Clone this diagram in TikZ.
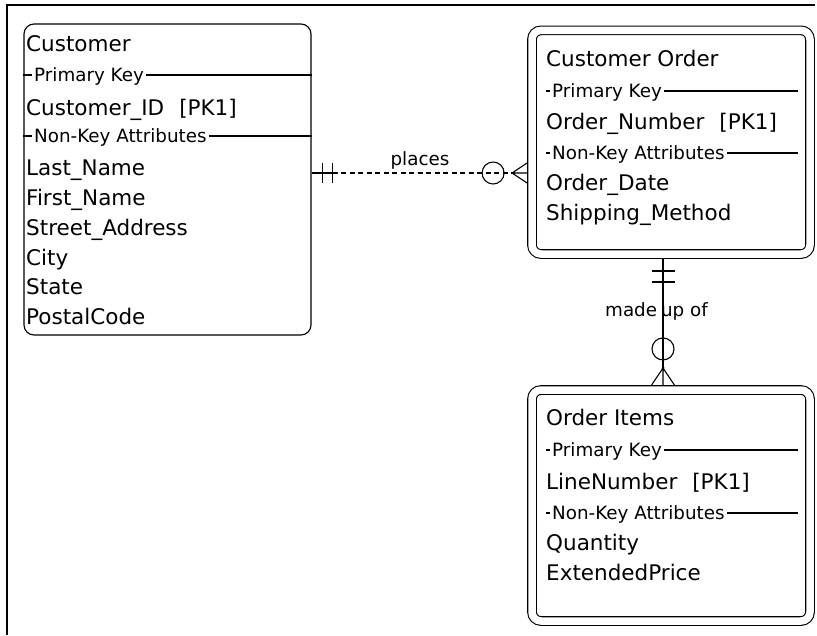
\documentclass[tikz,border=0pt]{standalone}
\usepackage{fontspec}
\setmainfont{DejaVu Sans}
\usetikzlibrary{calc}

\newcommand{\attrsize}{\fontsize{21.5}{25}\selectfont}
\newcommand{\keysize}{\fontsize{18.3}{21}\selectfont}

\tikzset{
  entity/.style={draw, line width=1.1pt, rounded corners=10pt, inner sep=0pt},
  dblentity/.style={draw, line width=1.1pt, double, double distance=7.5pt,
    rounded corners=9pt, inner sep=0pt, outer sep=4.9pt},
  attr/.style={anchor=west, inner sep=0pt, font=\attrsize, text height=15.7pt, text depth=0pt},
  keyhead/.style={anchor=west, inner xsep=2pt, inner ysep=0pt, font=\keysize,
    text height=13.3pt, text depth=0pt},
  sepline/.style={line width=1.1pt},
  rellabel/.style={inner sep=0pt, font=\keysize, text height=13.3pt, text depth=0pt},
  relline/.style={line width=1.1pt},
  optline/.style={relline, dash pattern=on 5pt off 3.5pt},
}

\begin{document}
\begin{tikzpicture}[x=1pt,y=-1pt]
\useasboundingbox (0,0) rectangle (817,635);
% Frame:
\draw[line width=2pt] (6.5,635) -- (6.5,5) -- (815,5);

% Customer:
\node[entity, minimum width=287pt, minimum height=311pt] (cust) at (167.5,179.5) {};
\node[attr] (cname) at (26,43.5) {Customer};
\node[keyhead] (cpk) at (32,75) {Primary Key};
\draw[sepline] (cust.west |- cpk) -- (cpk.west) (cpk.east) -- (cust.east |- cpk);
\node[attr] (cid) at (26,108) {Customer\_ID\hspace{15pt}[PK1]};
\node[keyhead] (cnk) at (32,136) {Non-Key Attributes};
\draw[sepline] (cust.west |- cnk) -- (cnk.west) (cnk.east) -- (cust.east |- cnk);
\foreach \t [count=\i] in {Last\_Name, First\_Name, Street\_Address, City, State, PostalCode}
  \node[attr] (cattr\i) at (26,138+29.8*\i) {\t};

% Customer Order:
\node[dblentity, minimum width=278pt, minimum height=223.7pt] (ord) at (671,142.2) {};
\node[attr] (oname) at (546,59) {Customer Order};
\node[keyhead] (opk) at (550,91) {Primary Key};
\draw[sepline] ($(opk.west)+(-4,0)$) -- (opk.west) (opk.east) -- ($(ord.east |- opk)+(-17,0)$);
\node[attr] (onum) at (546,122) {Order\_Number\hspace{15pt}[PK1]};
\node[keyhead] (onk) at (550,153) {Non-Key Attributes};
\draw[sepline] ($(onk.west)+(-4,0)$) -- (onk.west) (onk.east) -- ($(ord.east |- onk)+(-17,0)$);
\foreach \t [count=\i] in {Order\_Date, Shipping\_Method}
  \node[attr] (oattr\i) at (546,153+30*\i) {\t};

% Order Items:
\node[dblentity, minimum width=278pt, minimum height=231pt] (items) at (671,505.5) {};
\node[attr] (iname) at (546,418) {Order Items};
\node[keyhead] (ipk) at (550,450) {Primary Key};
\draw[sepline] ($(ipk.west)+(-4,0)$) -- (ipk.west) (ipk.east) -- ($(items.east |- ipk)+(-17,0)$);
\node[attr] (inum) at (546,482) {LineNumber\hspace{15pt}[PK1]};
\node[keyhead] (ink) at (550,513) {Non-Key Attributes};
\draw[sepline] ($(ink.west)+(-4,0)$) -- (ink.west) (ink.east) -- ($(items.east |- ink)+(-17,0)$);
\foreach \t [count=\i] in {Quantity, ExtendedPrice}
  \node[attr] (iattr\i) at (546,513+30*\i) {\t};

% places:
\coordinate (pl1) at ($(cust.east)+(0,-6.5)$);
\coordinate (pl2) at (pl1 -| ord.west);
\draw[relline] (pl1) -- ++(21,0) coordinate (pl3);
\draw[relline] ($(pl1)+(11,-10)$) -- ++(0,20) ($(pl1)+(21,-10)$) -- ++(0,20);
\draw[optline] (pl3) -- ($(pl2)+(-15,0)$) coordinate (pl4);
\draw[relline] ($(pl2)+(-34,0)$) circle [radius=11pt];
\draw[relline] (pl4) -- ($(pl2)+(0,-10)$) (pl4) -- (pl2) (pl4) -- ($(pl2)+(0,10)$);
\node[rellabel] (placeslbl) at (420,159) {places};

% made up of:
\coordinate (mu1) at ($(ord.south)+(-8,0)$);
\coordinate (mu2) at (mu1 |- items.north);
\draw[relline] (mu1) -- ($(mu2)+(0,-17)$) coordinate (mu3);
\draw[relline] ($(mu1)+(-11.5,12)$) -- ++(23,0) ($(mu1)+(-11.5,23)$) -- ++(23,0);
\draw[relline] ($(mu1)+(0,90)$) circle [radius=11pt];
\fill (mu3) circle [radius=1.6pt];
\draw[relline] (mu3) -- ($(mu2)+(-11.5,0)$) (mu3) -- (mu2) (mu3) -- ($(mu2)+(11.5,0)$);
\node[rellabel, anchor=west] (madelbl) at (605,310) {made\hspace{4pt}up of};
\end{tikzpicture}
\end{document}
